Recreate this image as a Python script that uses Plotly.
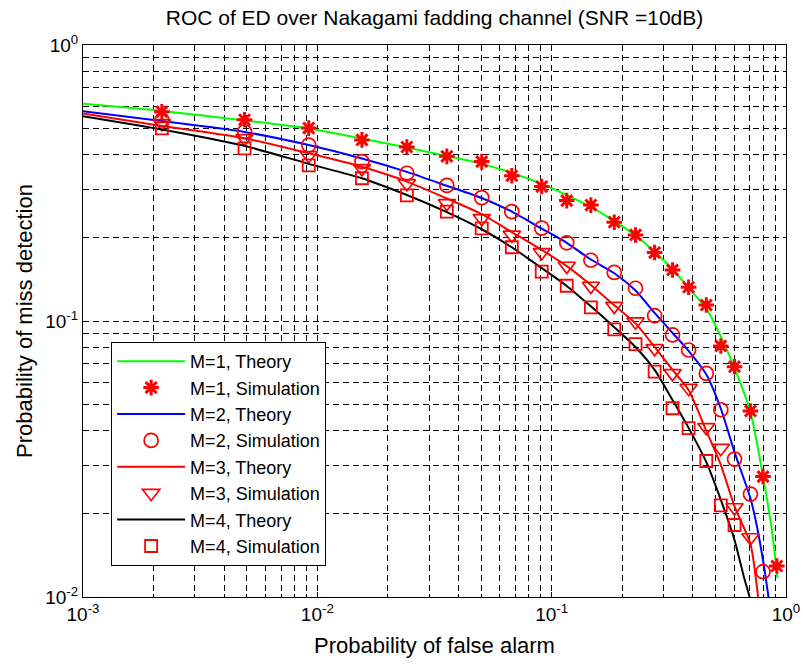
import plotly.graph_objects as go

# ---------------- data ----------------
pf_sim = [0.00217, 0.00489, 0.00919, 0.0155, 0.0241, 0.0357, 0.0503, 0.0676, 0.0907,
          0.116, 0.147, 0.185, 0.228, 0.275, 0.328, 0.384, 0.457, 0.527, 0.603, 0.705,
          0.798, 0.914]

pm_sim_m1 = [0.573, 0.536, 0.500, 0.453, 0.427, 0.395, 0.378, 0.336, 0.307, 0.273, 0.263,
             0.228, 0.205, 0.177, 0.153, 0.1325, 0.1143, 0.0812, 0.0683, 0.0472, 0.0273, 0.01295]
pm_sim_m2 = [0.535, 0.485, 0.434, 0.378, 0.343, 0.310, 0.280, 0.249, 0.217, 0.192, 0.166,
             0.150, 0.1314, 0.1045, 0.0890, 0.0785, 0.0646, 0.0477, 0.0316, 0.0236, 0.01235]
pm_sim_m3 = [0.520, 0.459, 0.398, 0.3575, 0.315, 0.267, 0.2355, 0.205, 0.1774, 0.1582, 0.1339,
             0.1133, 0.0994, 0.0796, 0.0646, 0.0571, 0.0412, 0.0346, 0.0211, 0.01643]
pm_sim_m4 = [0.499, 0.422, 0.3665, 0.329, 0.2854, 0.249, 0.2167, 0.185, 0.151, 0.1342, 0.1121,
             0.0933, 0.0825, 0.0655, 0.0483, 0.0409, 0.0311, 0.02146, 0.01823]

pf_t_common = [0.001, 0.00217, 0.00489, 0.00919, 0.0155, 0.0241, 0.0357, 0.0503, 0.0676,
               0.0907, 0.116, 0.147, 0.185, 0.228, 0.275, 0.328, 0.384, 0.457, 0.527, 0.603]

pf_t1 = pf_t_common + [0.705, 0.798, 0.87, 0.92]
pm_t1 = [0.612, 0.577, 0.533, 0.498, 0.458, 0.425, 0.396, 0.371, 0.344, 0.314, 0.286, 0.259,
         0.230, 0.204, 0.178, 0.154, 0.132, 0.111, 0.088, 0.0676, 0.0468, 0.0274, 0.0175, 0.0117]

pf_t2 = pf_t_common + [0.705, 0.75, 0.80, 0.845]
pm_t2 = [0.575, 0.530, 0.484, 0.434, 0.388, 0.347, 0.309, 0.279, 0.249, 0.216, 0.192, 0.167,
         0.149, 0.129, 0.107, 0.0905, 0.0780, 0.0640, 0.0482, 0.0335, 0.0228, 0.0182, 0.0134, 0.0098]

pf_t3 = pf_t_common + [0.705, 0.76]
pm_t3 = [0.565, 0.509, 0.459, 0.405, 0.362, 0.320, 0.278, 0.244, 0.210, 0.181, 0.158, 0.135,
         0.114, 0.098, 0.0805, 0.0665, 0.0562, 0.0400, 0.0301, 0.0213, 0.0156, 0.0100]

pf_t4 = pf_t_common + [0.66, 0.70]
pm_t4 = [0.552, 0.494, 0.431, 0.371, 0.329, 0.286, 0.248, 0.215, 0.185, 0.1555, 0.134, 0.113,
         0.095, 0.0805, 0.0665, 0.0517, 0.041, 0.0308, 0.0225, 0.0161, 0.0119, 0.0100]

labels = ["M=1, Theory", "M=1, Simulation", "M=2, Theory", "M=2, Simulation",
          "M=3, Theory", "M=3, Simulation", "M=4, Theory", "M=4, Simulation"]

x_tickvals = [0.001, 0.01, 0.1, 1]
x_ticktext = ["10<sup>-3</sup>", "10<sup>-2</sup>", "10<sup>-1</sup>", "10<sup>0</sup>"]
y_tickvals = [0.01, 0.1, 1]
y_ticktext = ["10<sup>-2</sup>", "10<sup>-1</sup>", "10<sup>0</sup>"]

# ---------------- figure ----------------
FONT = "Liberation Sans, Arial, sans-serif"
fig = go.Figure()

theory = [(pf_t1, pm_t1, "#00ff00"), (pf_t2, pm_t2, "#0000ff"),
          (pf_t3, pm_t3, "#ff0000"), (pf_t4, pm_t4, "#000000")]
sims = [(pm_sim_m1, "asterisk-open", 13, 3), (pm_sim_m2, "circle-open", 14, 1.7),
        (pm_sim_m3, "triangle-down-open", 15, 1.7), (pm_sim_m4, "square-open", 12, 1.8)]

for i in range(4):
    tx, ty, col = theory[i]
    fig.add_trace(go.Scatter(x=tx, y=ty, mode="lines", name=labels[2 * i],
                             legendgroup=f"g{2*i}",
                             line=dict(color=col, width=2, shape="spline", smoothing=0.6)))
    sy, sym, sz, lw = sims[i]
    fig.add_trace(go.Scatter(x=pf_sim[:len(sy)], y=sy, mode="markers", name=labels[2 * i + 1],
                             legendgroup=f"g{2*i+1}",
                             marker=dict(symbol=sym, size=sz, color="#ff0000",
                                         line=dict(color="#ff0000", width=lw))))

axis_common = dict(
    type="log", showline=True, linecolor="black", linewidth=1, mirror="ticks",
    ticks="inside", ticklen=5, tickcolor="black", automargin=False,
    showgrid=True, gridcolor="black", griddash="6px,4px", gridwidth=1,
    zeroline=False,
    tickfont=dict(family=FONT, size=19, color="black"),
    minor=dict(dtick="D1", ticks="inside", ticklen=3, tickcolor="black",
               showgrid=True, gridcolor="black", griddash="6px,4px", gridwidth=1),
)

fig.update_xaxes(range=[-3, 0], tickvals=x_tickvals, ticktext=x_ticktext,
                 title=dict(text="Probability of false alarm",
                            font=dict(family=FONT, size=22, color="black"), standoff=13),
                 **axis_common)
fig.update_yaxes(range=[-2, 0], tickvals=y_tickvals, ticktext=y_ticktext,
                 title=dict(text="Probability of miss detection",
                            font=dict(family=FONT, size=22, color="black"), standoff=6),
                 **axis_common)

fig.update_layout(
    width=803, height=664,
    margin=dict(l=83, r=17, t=45, b=67),
    paper_bgcolor="white", plot_bgcolor="white",
    title=dict(text="ROC of ED over Nakagami fadding channel (SNR =10dB)",
               font=dict(family=FONT, size=21, color="black"),
               x=(83 + 786) / 2 / 803, xanchor="center", y=1 - 18 / 664, yanchor="middle"),
    legend=dict(x=0.040, y=0.462, xanchor="left", yanchor="top",
                bgcolor="white", bordercolor="black", borderwidth=1,
                font=dict(family=FONT, size=18, color="black"),
                traceorder="grouped", tracegroupgap=0, itemwidth=68),
    showlegend=True,
)

fig.write_html("out.html")
